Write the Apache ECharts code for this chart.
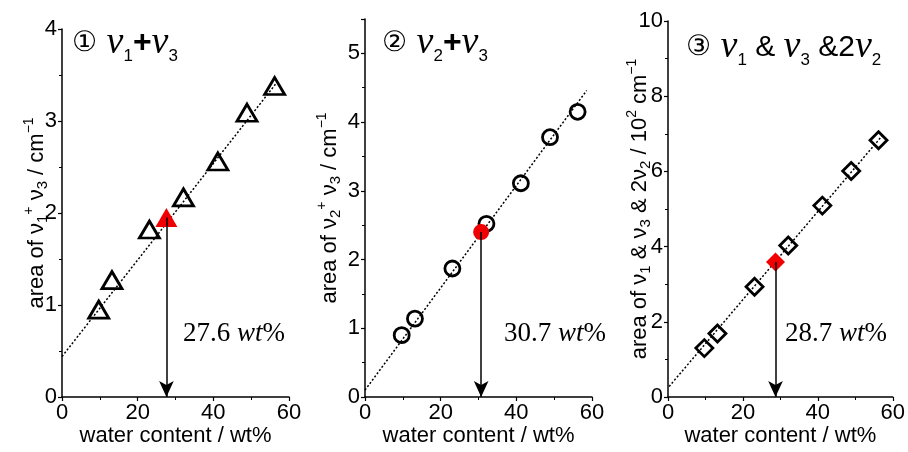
<!DOCTYPE html>
<html>
<head>
<meta charset="utf-8">
<script src="https://cdn.jsdelivr.net/npm/echarts@6/dist/echarts.min.js"></script>
<style>
  html, body { margin: 0; padding: 0; background: #fff; }
  #chart { width: 908px; height: 452px; }
</style>
</head>
<body>
<div id="chart"></div>
<script>
// water content of the calibration samples (wt%)
const waterContent = [9.7, 13.2, 23.1, 32.1, 41.2, 48.9, 56.2]
// band areas for each panel
const areaV1V3 = [0.95, 1.27, 1.82, 2.17, 2.56, 3.09, 3.38]
const areaV2V3 = [0.90, 1.14, 1.87, 2.52, 3.11, 3.78, 4.15]
const areaCombined = [1.30, 1.69, 2.93, 4.03, 5.09, 6.01, 6.83]

// unknown sample (red marker) for each panel
const unknownX = [27.6, 30.7, 28.7]
const unknownY = [1.95, 2.40, 3.59]
const unknownText = ['27.6', '30.7', '28.7']

// dotted fit lines: [start, end] per panel
const fitV1V3 = [[0, 0.44], [57, 3.43]]
const fitV2V3 = [[0, 0.10], [58.6, 4.46]]
const fitCombined = [[0.3, 0.28], [57.2, 6.95]]

// axis ranges
const xMax = 60
const xStep = 20
const yMax = [4, 5.5, 10]
const yStep = [1, 1, 2]

const black = '#000'
const red = '#f00000'
const sans = 'Liberation Sans'
const serif = 'Liberation Serif'

const myChart = echarts.init(document.getElementById('chart'))

const grids = [
  { left: 62, top: 29, width: 227, height: 370 },
  { left: 365, top: 19, width: 227, height: 380 },
  { left: 668, top: 21, width: 227, height: 378 }
]

// 轴名用的 rich 样式（上下标）
const nameRich = {
  n: { fontSize: 22, fontFamily: sans, color: black },
  sb: { fontSize: 15, fontFamily: sans, color: black, padding: [12, 0, 0, 0] },
  sp: { fontSize: 14, fontFamily: sans, color: black, padding: [0, 0, 16, 0] }
}

const yNames = [
  '{n|area of ν}{sb|1}{sp|+}{n| ν}{sb|3}{n| / cm}{sp|−1}',
  '{n|area of ν}{sb|2}{sp|+}{n| ν}{sb|3}{n| / cm}{sp|−1}',
  '{n|area of ν}{sb|1}{n| & ν}{sb|3}{n| & 2ν}{sb|2}{n| / 10}{sp|2}{n| cm}{sp|−1}'
]

const xAxis = grids.map((g, i) => ({
  gridIndex: i,
  type: 'value',
  min: 0,
  max: xMax,
  interval: xStep,
  axisLine: { lineStyle: { color: black, width: 1.5 } },
  axisTick: { show: true, inside: false, length: 4, lineStyle: { color: black, width: 1.2 } },
  minorTick: { show: true, splitNumber: 2, length: 3, lineStyle: { color: black, width: 1 } },
  splitLine: { show: false },
  axisLabel: { color: black, fontSize: 22, fontFamily: sans, margin: 5 },
  name: 'water content / wt%',
  nameLocation: 'middle',
  nameGap: 28,
  nameMoveOverlap: false,
  nameTextStyle: { color: black, fontSize: 22, fontFamily: sans }
}))

const yAxis = grids.map((g, i) => ({
  gridIndex: i,
  type: 'value',
  min: 0,
  max: yMax[i],
  interval: yStep[i],
  axisLine: { lineStyle: { color: black, width: 1.5 } },
  axisTick: { show: true, inside: false, length: 4, lineStyle: { color: black, width: 1.2 } },
  minorTick: { show: true, splitNumber: 2, length: 3, lineStyle: { color: black, width: 1 } },
  splitLine: { show: false },
  axisLabel: { color: black, fontSize: 22, fontFamily: sans, margin: 5, showMaxLabel: i !== 1 },
  name: yNames[i],
  nameLocation: 'middle',
  nameRotate: 90,
  nameGap: [10, 20, 13][i],
  nameMoveOverlap: false,
  nameTextStyle: { rich: nameRich }
}))

const areas = [areaV1V3, areaV2V3, areaCombined]
const fits = [fitV1V3, fitV2V3, fitCombined]
const symbols = ['triangle', 'circle', 'diamond']
const symbolSizes = [[20, 17], 15, [17, 17]]
const redSizes = [[22, 19], 16, [19, 19]]

const series = []
areas.forEach((ys, i) => {
  series.push({
    type: 'line',
    xAxisIndex: i,
    yAxisIndex: i,
    data: fits[i],
    symbol: 'none',
    lineStyle: { color: black, width: 1.5, type: [2, 2] },
    z: 1
  })
  series.push({
    type: 'scatter',
    xAxisIndex: i,
    yAxisIndex: i,
    data: waterContent.map((x, k) => [x, ys[k]]),
    symbol: symbols[i],
    symbolSize: symbolSizes[i],
    itemStyle: { color: 'rgba(0,0,0,0)', borderColor: black, borderWidth: 2.8, opacity: 1 },
    z: 3
  })
  series.push({
    type: 'scatter',
    xAxisIndex: i,
    yAxisIndex: i,
    data: [[unknownX[i], unknownY[i]]],
    symbol: symbols[i],
    symbolSize: redSizes[i],
    itemStyle: { color: red, opacity: 1 },
    z: 4,
    markLine: {
      silent: true,
      symbol: ['none', 'arrow'],
      symbolSize: [11, 16],
      lineStyle: { color: black, width: 1.5, type: 'solid' },
      label: { show: false },
      data: [[{ coord: [unknownX[i], unknownY[i]] }, { coord: [unknownX[i], 0] }]]
    }
  })
})

const titleRich = {
  c: { fontSize: 28, fontFamily: 'DejaVu Sans', fontWeight: 'normal', color: black },
  v: { fontSize: 38, fontFamily: serif, fontStyle: 'italic', fontWeight: 'normal', color: black },
  s: { fontSize: 17, fontFamily: sans, fontWeight: 'normal', color: black, padding: [26, 0, 0, 0] },
  p: { fontSize: 32, fontFamily: sans, fontWeight: 'bold', color: black },
  a: { fontSize: 30, fontFamily: sans, fontWeight: 'normal', color: black }
}

const titles = [
  { text: '{c|①}{v| ν}{s|1}{p|+}{v|ν}{s|3}', left: 72, top: 22 },
  { text: '{c|②}{v| ν}{s|2}{p|+}{v|ν}{s|3}', left: 382, top: 22 },
  { text: '{c|③}{v| ν}{s|1}{a| & }{v|ν}{s|3}{a| &2}{v|ν}{s|2}', left: 686, top: 26 }
].map(t => ({
  text: t.text, left: t.left, top: t.top, padding: 0,
  textStyle: { fontWeight: 'normal', rich: titleRich }
}))

const valueLeft = [183, 504, 785]
const graphic = unknownText.map((txt, i) => ({
  type: 'text',
  left: valueLeft[i],
  top: 320,
  style: {
    text: '{n|' + txt + ' }{i|wt}{n|%}',
    rich: {
      n: { fontSize: 27, fontFamily: serif, fill: black },
      i: { fontSize: 27, fontFamily: serif, fontStyle: 'italic', fill: black }
    }
  }
}))

const option = {
  animation: false,
  backgroundColor: '#fff',
  title: titles,
  grid: grids,
  xAxis: xAxis,
  yAxis: yAxis,
  series: series,
  graphic: graphic
}

myChart.setOption(option)
</script>
</body>
</html>
